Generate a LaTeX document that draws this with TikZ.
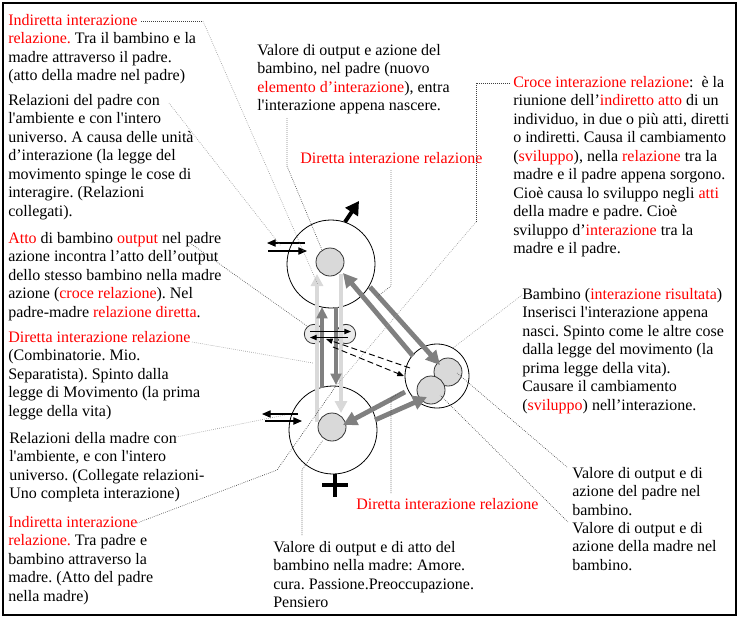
\documentclass[tikz,border=0pt]{standalone}
\usepackage{fontspec}
\setmainfont{Liberation Serif}[Ligatures=TeXOff]
\usetikzlibrary{arrows.meta}
\definecolor{lg}{HTML}{D9D9D9}
\definecolor{dg}{HTML}{808080}
\definecolor{cf}{HTML}{D9D9D9}
\definecolor{sf}{HTML}{EBEBEB}
\newcommand{\R}[1]{\textcolor{red}{#1}}
\newcommand{\fl}{\rule{0pt}{9pt}}
\frenchspacing
\begin{document}
\begin{tikzpicture}[x=0.75pt,y=-0.75pt,
  txt/.style={anchor=north west,inner sep=0pt,align=left,font=\fontsize{12}{13.85}\selectfont\frenchspacing},
  lead/.style={densely dotted,line width=0.5pt,black!75},
  leadl/.style={densely dotted,line width=0.5pt,black!40},
  ring/.style={circle,draw,line width=0.6pt,inner sep=0pt},
  core/.style={circle,draw=black!80,fill=cf,line width=0.6pt,inner sep=0pt,minimum size=21pt},
  small/.style={circle,draw=black!80,fill=sf,line width=0.6pt,inner sep=0pt,minimum size=14.5pt},
  lgarr/.style={draw=lg,line width=3.6pt,-{Triangle[length=9pt,width=9pt]}},
  dgarr/.style={draw=dg,line width=3pt,-{Triangle[length=8.5pt,width=8pt]}},
  diag/.style={draw=dg,line width=3.6pt,-{Triangle[length=10.5pt,width=10.5pt]}},
  thinarr/.style={line width=0.8pt,-{Triangle[length=6.5pt,width=5.5pt]}},
  dasharr/.style={dash pattern=on 4.5pt off 2.5pt,line width=0.7pt,-{Triangle[length=5pt,width=4pt]}},
  bigarr/.style={line width=3pt,-{Triangle[length=10pt,width=11pt]}}
]
\useasboundingbox (0,0) rectangle (740,619);
\draw[line width=1pt] (3,3) rectangle (736,615);

% circles
\node[ring,minimum size=66pt] (padre) at (331,264) {};
\node[ring,minimum size=66pt] (madre) at (333,430) {};
\node[ring,minimum size=48pt] (bamb) at (437,376) {};
\node[core] (padrec) at (330,262) {};
\node[core] (madrec) at (332,427) {};
\node[core] (bambA) at (448,372) {};
\node[core] (bambB) at (431,390) {};
\node[small] (sL) at (314,334) {};
\node[small] (sR) at (346,334) {};

% arrow end points
\coordinate (v1a) at (317,422); \coordinate (v1b) at (317,274);
\coordinate (v2a) at (341,274); \coordinate (v2b) at (341,413);
\coordinate (v3a) at (322,388); \coordinate (v3b) at (322,307);
\coordinate (v4a) at (336,307); \coordinate (v4b) at (336,385);
\coordinate (d1a) at (413,356); \coordinate (d1b) at (343,273);
\coordinate (d2a) at (370,287); \coordinate (d2b) at (440,365);
\coordinate (d3a) at (405,392); \coordinate (d3b) at (343,425);
\coordinate (d4a) at (375,420); \coordinate (d4b) at (427,397);

\draw[lgarr] (v1a) -- (v1b);
\draw[lgarr] (v2a) -- (v2b);
\draw[dgarr] (v3a) -- (v3b);
\draw[dgarr] (v4a) -- (v4b);
\draw[diag] (d1a) -- (d1b);
\draw[diag] (d2a) -- (d2b);
\draw[diag] (d3a) -- (d3b);
\draw[diag] (d4a) -- (d4b);

% black arrows
\coordinate (ba) at (345,222); \coordinate (bb) at (359,201);
\draw[bigarr] (ba) -- (bb);
\coordinate (p1) at (322,485); \coordinate (p2) at (348,485);
\coordinate (p3) at (335,474); \coordinate (p4) at (335,497);
\draw[line width=3.6pt] (p1) -- (p2) (p3) -- (p4);

\coordinate (ta1) at (305,243); \coordinate (ta2) at (267,243);
\coordinate (ta3) at (268,251); \coordinate (ta4) at (307,251);
\draw[thinarr] (ta1) -- (ta2);
\draw[thinarr] (ta3) -- (ta4);
\coordinate (tb1) at (298,414); \coordinate (tb2) at (262,414);
\coordinate (tb3) at (265,421); \coordinate (tb4) at (302,421);
\draw[thinarr] (tb1) -- (tb2);
\draw[thinarr] (tb3) -- (tb4);
\coordinate (sa1) at (310,331.5); \coordinate (sa2) at (351,331.5);
\coordinate (sa3) at (348,337.5); \coordinate (sa4) at (310,337.5);
\draw[thinarr,line width=0.7pt,-{Triangle[length=5pt,width=4pt]}] (sa1) -- (sa2);
\draw[thinarr,line width=0.7pt,-{Triangle[length=5pt,width=4pt]}] (sa3) -- (sa4);

\coordinate (da1) at (410,368); \coordinate (da2) at (326,339);
\coordinate (da3) at (333,347); \coordinate (da4) at (404,376);
\draw[dasharr] (da1) -- (da2);
\draw[dasharr] (da3) -- (da4);

% texts
\node[txt] (tA) at (8,13) {\fl\R{Indiretta interazione}\\ \R{relazione.} Tra il bambino e la\\ madre attraverso il padre.\\ (atto della madre nel padre)};
\node[txt] (tB) at (8,93) {\fl Relazioni del padre con\\ l'ambiente e con l'intero\\ universo. A causa delle unità\\ d’interazione (la legge del\\ movimento spinge le cose di\\ interagire. (Relazioni\\ collegati).};
\node[txt] (tC) at (8,231) {\fl\R{Atto} di bambino \R{output} nel padre\\ azione incontra l’atto dell’output\\ dello stesso bambino nella madre\\ azione (\R{croce relazione}). Nel\\ padre-madre \R{relazione diretta}.};
\node[txt] (tD) at (8,330) {\fl\R{Diretta interazione relazione}\\ (Combinatorie. Mio.\\ Separatista). Spinto dalla\\ legge di Movimento (la prima\\ legge della vita)};
\node[txt] (tE) at (9,431) {\fl Relazioni della madre con\\ l'ambiente, e con l'intero\\ universo. (Collegate relazioni-\\ Uno completa interazione)};
\node[txt] (tF) at (8,515) {\fl\R{Indiretta interazione}\\ \R{relazione.} Tra padre e\\ bambino attraverso la\\ madre. (Atto del padre\\ nella madre)};
\node[txt] (tG) at (257,43) {\fl Valore di output e azione del\\ bambino, nel padre (nuovo\\ \R{elemento d’interazione}), entra\\ l'interazione appena nascere.};
\node[txt] (tH) at (300,151) {\fl\R{Diretta interazione relazione}};
\node[txt] (tI) at (513,75) {\fl\R{Croce interazione relazione}:\ \ è la\\ riunione dell’\R{indiretto atto} di un\\ individuo, in due o più atti, diretti\\ o indiretti. Causa il cambiamento\\ (\R{sviluppo}), nella \R{relazione} tra la\\ madre e il padre appena sorgono.\\ Cioè causa lo sviluppo negli \R{atti}\\ della madre e padre. Cioè\\ sviluppo d’\R{interazione} tra la\\ madre e il padre.};
\node[txt] (tJ) at (522,287) {\fl Bambino (\R{interazione risultata})\\ Inserisci l'interazione appena\\ nasci. Spinto come le altre cose\\ dalla legge del movimento (la\\ prima legge della vita).\\ Causare il cambiamento\\ (\R{sviluppo}) nell’interazione.};
\node[txt] (tK) at (356,497) {\fl\R{Diretta interazione relazione}};
\node[txt] (tL) at (273,540) {\fl Valore di output e di atto del\\ bambino nella madre: Amore.\\ cura. Passione.Preoccupazione.\\ Pensiero};
\node[txt] (tM) at (572,466) {\fl Valore di output e di\\ azione del padre nel\\ bambino.};
\node[txt] (tN) at (572,521) {\fl Valore di output e di\\ azione della madre nel\\ bambino.};

% leader lines
\coordinate (l1a) at (141,21); \coordinate (l1b) at (203,21); \coordinate (l1c) at (318,285);
\draw[lead] (l1a) -- (l1b);
\draw[leadl] (l1b) -- (l1c);
\coordinate (l2a) at (169,103); \coordinate (l2b) at (281,246);
\draw[leadl] (l2a) -- (l2b);
\coordinate (l3a) at (287,118); \coordinate (l3b) at (287,166); \coordinate (l3c) at (322,250);
\draw[lead] (l3a) -- (l3b) -- (l3c);
\coordinate (l4a) at (391,170); \coordinate (l4b) at (391,286); \coordinate (l4c) at (378,296);
\draw[lead] (l4a) -- (l4b) -- (l4c);
\coordinate (l5a) at (510,83); \coordinate (l5b) at (476,83); \coordinate (l5c) at (476,222); \coordinate (l5d) at (336,386);
\draw[lead] (l5a) -- (l5b) -- (l5c);
\draw[leadl] (l5c) -- (l5d);
\coordinate (l6a) at (190,243); \coordinate (l6b) at (307,326);
\draw[lead] (l6a) -- (l6b);
\coordinate (l7a) at (192,342); \coordinate (l7b) at (313,363);
\draw[leadl] (l7a) -- (l7b);
\coordinate (l8a) at (176,437); \coordinate (l8b) at (285,415);
\draw[leadl] (l8a) -- (l8b);
\coordinate (l9a) at (137,523); \coordinate (l9b) at (277,470); \coordinate (l9c) at (336,386);
\draw[lead] (l9a) -- (l9b) -- (l9c);
\coordinate (l10a) at (302,535); \coordinate (l10b) at (302,470); \coordinate (l10c) at (323,440);
\draw[lead] (l10a) -- (l10b) -- (l10c);
\coordinate (l11a) at (391,493); \coordinate (l11b) at (391,398); \coordinate (l11c) at (401,392);
\draw[lead] (l11a) -- (l11b) -- (l11c);
\coordinate (l12a) at (522,295); \coordinate (l12b) at (453,348);
\draw[leadl] (l12a) -- (l12b);
\coordinate (l13a) at (567,467); \coordinate (l13b) at (457,373);
\draw[lead] (l13a) -- (l13b);
\coordinate (l14a) at (568,522); \coordinate (l14b) at (440,395);
\draw[lead] (l14a) -- (l14b);
\end{tikzpicture}
\end{document}
